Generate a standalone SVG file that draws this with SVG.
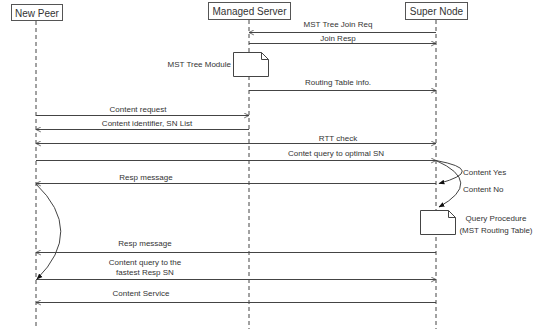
<svg xmlns="http://www.w3.org/2000/svg" width="537" height="329" viewBox="0 0 537 329">
<style>
.life{stroke:#444;stroke-width:1;stroke-dasharray:4 3;fill:none}
.hdr{fill:#fff;stroke:#555;stroke-width:1}
.msg{stroke:#444;stroke-width:1;fill:none}
.note{fill:#fff;stroke:#444;stroke-width:1}
text{font-family:"Liberation Sans",Arial,sans-serif;fill:#333}
.h{font-size:10px;text-anchor:middle}
.l{font-size:8px;text-anchor:middle}
.s{font-size:8px}
</style>
<defs>
<marker id="open" viewBox="0 0 10 10" refX="9" refY="5" markerWidth="6" markerHeight="6" markerUnits="userSpaceOnUse" orient="auto-start-reverse">
<path d="M1,1 L9,5 L1,9" fill="none" stroke="#444" stroke-width="1.3"/>
</marker>
<marker id="fill" viewBox="0 0 10 10" refX="9" refY="5" markerWidth="6" markerHeight="6" markerUnits="userSpaceOnUse" orient="auto">
<path d="M0,1 L10,5 L0,9 Z" fill="#111"/>
</marker>
</defs>
<g id="lifelines">
<line class="life" x1="36" y1="21" x2="36" y2="329"/>
<line class="life" x1="249" y1="20" x2="249" y2="329"/>
<line class="life" x1="436" y1="20" x2="436" y2="329"/>
</g>
<g id="new-peer">
<rect class="hdr" x="11.5" y="4.5" width="51" height="16"/>
<text class="h" x="37" y="16.5">New Peer</text>
</g>
<g id="managed-server">
<rect class="hdr" x="208.5" y="2.5" width="82" height="17"/>
<text class="h" x="249.5" y="15">Managed Server</text>
</g>
<g id="super-node">
<rect class="hdr" x="405.5" y="2.5" width="62" height="17"/>
<text class="h" x="436.5" y="15">Super Node</text>
</g>
<g id="mst-tree-module">
<path class="note" d="M233.5,52.5 H261.5 L268.5,59.5 V76.5 H233.5 Z"/>
<path class="msg" d="M261.5,52.5 V59.5 H268.5"/>
<text class="s" x="231" y="67" text-anchor="end">MST Tree Module</text>
</g>
<g id="query-procedure">
<path class="note" d="M420.5,210.5 H448.5 L455.5,217.5 V234.5 H420.5 Z"/>
<path class="msg" d="M448.5,210.5 V217.5 H455.5"/>
<text class="l" x="496" y="221">Query Procedure</text>
<text class="l" x="496" y="233">(MST Routing Table)</text>
</g>
<g id="connectors">
<line class="msg" x1="436" y1="32.5" x2="249" y2="32.5" marker-end="url(#open)"/>
<text class="l" x="338" y="27">MST Tree Join Req</text>
<line class="msg" x1="249" y1="43.5" x2="436" y2="43.5" marker-end="url(#open)"/>
<text class="l" x="338" y="41">Join Resp</text>
<line class="msg" x1="249" y1="90.5" x2="436" y2="90.5" marker-end="url(#open)"/>
<text class="l" x="338" y="85">Routing Table info.</text>
<line class="msg" x1="36" y1="115.5" x2="249" y2="115.5" marker-end="url(#open)"/>
<text class="l" x="138" y="112">Content request</text>
<line class="msg" x1="249" y1="129.5" x2="36" y2="129.5" marker-end="url(#open)"/>
<text class="l" x="147" y="126">Content identifier, SN List</text>
<line class="msg" x1="36" y1="143.5" x2="436" y2="143.5" marker-start="url(#open)" marker-end="url(#open)"/>
<text class="l" x="338" y="141">RTT check</text>
<line class="msg" x1="36" y1="160.5" x2="436" y2="160.5" marker-end="url(#open)"/>
<text class="l" x="336" y="156">Contet query to optimal SN</text>
<line class="msg" x1="436" y1="183.5" x2="36" y2="183.5" marker-end="url(#open)"/>
<text class="l" x="146" y="180">Resp message</text>
<path class="msg" d="M436,160.5 Q487,170 439,183.5" marker-end="url(#fill)"/>
<text class="s" x="463" y="175">Content Yes</text>
<path class="msg" d="M436,160.5 Q484,182 439,207" marker-end="url(#fill)"/>
<text class="s" x="463" y="192">Content No</text>
<line class="msg" x1="436" y1="252.5" x2="36" y2="252.5" marker-end="url(#open)"/>
<text class="l" x="145" y="246">Resp message</text>
<line class="msg" x1="36" y1="279.5" x2="436" y2="279.5" marker-end="url(#open)"/>
<text class="l" x="145" y="265">Content query to the</text>
<text class="l" x="145" y="275">fastest Resp SN</text>
<path class="msg" d="M36,184 Q85,231 37,279" marker-end="url(#fill)"/>
<line class="msg" x1="436" y1="302.5" x2="36" y2="302.5" marker-end="url(#open)"/>
<text class="l" x="141" y="296">Content Service</text>
</g>
</svg>
